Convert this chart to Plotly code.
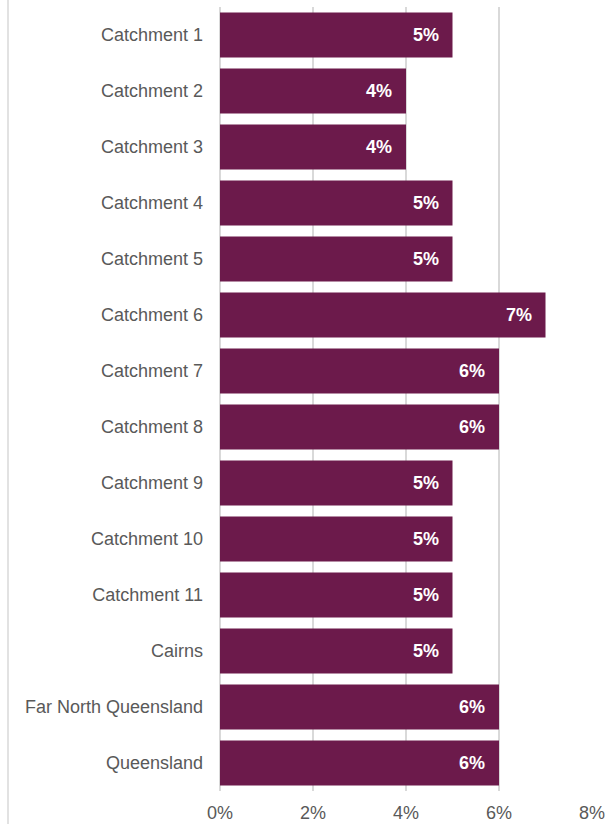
import plotly.graph_objects as go

categories = [
    "Catchment 1", "Catchment 2", "Catchment 3", "Catchment 4", "Catchment 5",
    "Catchment 6", "Catchment 7", "Catchment 8", "Catchment 9", "Catchment 10",
    "Catchment 11", "Cairns", "Far North Queensland", "Queensland",
]
values = [5, 4, 4, 5, 5, 7, 6, 6, 5, 5, 5, 5, 6, 6]
x_ticks = [0, 2, 4, 6, 8]
x_tick_labels = ["0%", "2%", "4%", "6%", "8%"]

BAR_COLOR = "#6C1A4B"
GRID = "#D9D9D9"
TEXT = "#595959"
FONT = "Liberation Sans, Arial, sans-serif"

fig = go.Figure()
fig.add_trace(go.Bar(
    x=values,
    y=categories,
    orientation="h",
    marker=dict(color=BAR_COLOR, line=dict(width=0)),
    hoverinfo="skip",
))

# value labels, right-aligned inside each bar end
for cat, v in zip(categories, values):
    fig.add_annotation(
        x=v, y=cat, xref="x", yref="y",
        text=f"<b>{v}%</b>",
        showarrow=False,
        xanchor="right", yanchor="middle",
        xshift=-12,
        font=dict(family=FONT, size=18, color="white"),
    )

# thin border line down the left edge of the chart
fig.add_shape(
    type="line", xref="paper", yref="paper",
    x0=(8 - 220) / 372, x1=(8 - 220) / 372,
    y0=-33 / 784, y1=(784 + 7) / 784,
    line=dict(color=GRID, width=1.5),
)

fig.update_layout(
    width=610, height=824,
    margin=dict(l=220, r=18, t=7, b=33, autoexpand=False),
    paper_bgcolor="white",
    plot_bgcolor="white",
    bargap=0.2,
    showlegend=False,
    font=dict(family=FONT, size=18, color=TEXT),
    xaxis=dict(
        range=[0, 8],
        tickvals=x_ticks,
        ticktext=x_tick_labels,
        showgrid=True, gridcolor=GRID, gridwidth=1.5,
        zeroline=True, zerolinecolor=GRID, zerolinewidth=1.5,
        showline=False,
        ticks="",
        ticklabelstandoff=9,
        automargin=False,
        tickfont=dict(family=FONT, size=18, color=TEXT),
        fixedrange=True,
    ),
    yaxis=dict(
        autorange="reversed",
        showgrid=False,
        zeroline=False,
        showline=False,
        ticks="",
        ticklabelstandoff=16,
        automargin=False,
        tickfont=dict(family=FONT, size=18, color=TEXT),
        fixedrange=True,
    ),
)

fig.write_html("out.html")
